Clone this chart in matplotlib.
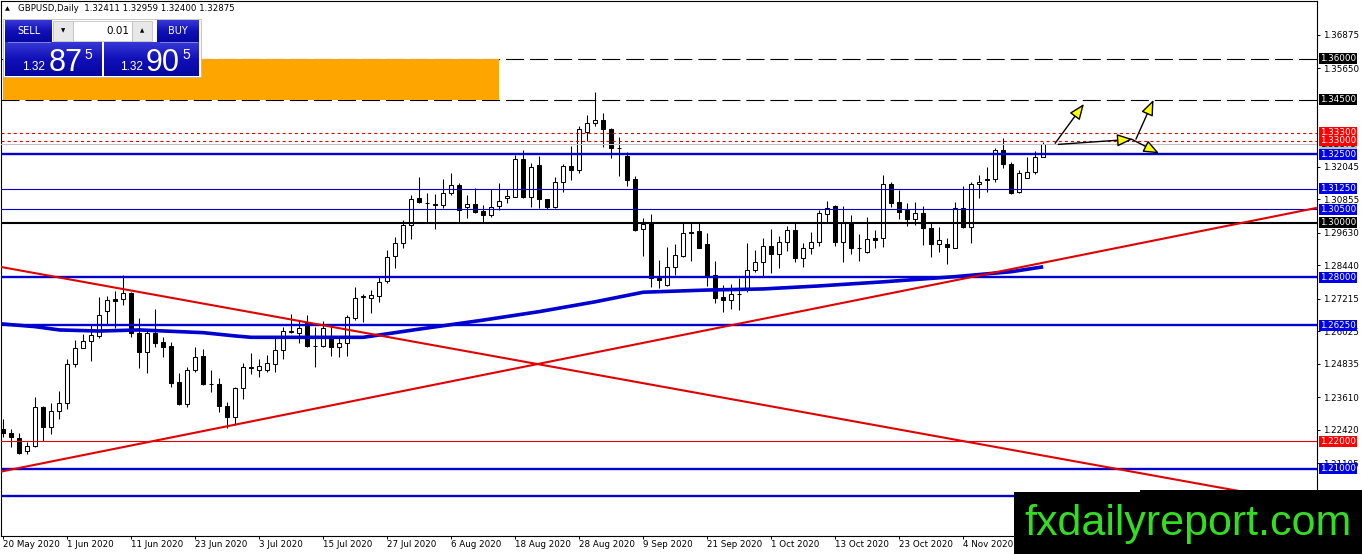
import matplotlib
matplotlib.use('Agg')
import matplotlib.pyplot as plt
from matplotlib.patches import Rectangle
from matplotlib.colors import LinearSegmentedColormap
import numpy as np

plt.rcParams['font.family'] = ['DejaVu Sans']
plt.rcParams['lines.scale_dashes'] = False

W, H = 1362, 554

# ---------------- data ----------------
date_labels = ["20 May 2020", "1 Jun 2020", "11 Jun 2020", "23 Jun 2020", "3 Jul 2020",
               "15 Jul 2020", "27 Jul 2020", "6 Aug 2020", "18 Aug 2020", "28 Aug 2020",
               "9 Sep 2020", "21 Sep 2020", "1 Oct 2020", "13 Oct 2020", "23 Oct 2020",
               "4 Nov 2020"]
date_bars = [0, 8, 16, 24, 32, 40, 48, 56, 64, 72, 80, 88, 96, 104, 112, 120]

opens = [1.2245, 1.2230, 1.2211, 1.2166, 1.2183, 1.2326, 1.2254, 1.2313, 1.2339, 1.2482,
         1.2543, 1.2568, 1.2586, 1.2679, 1.2720, 1.2720, 1.2742, 1.2596, 1.2529, 1.2598,
         1.2565, 1.2549, 1.2419, 1.2337, 1.2461, 1.2513, 1.2411, 1.2410, 1.2330, 1.2288,
         1.2394, 1.2469, 1.2461, 1.2461, 1.2483, 1.2535, 1.2601, 1.2598, 1.2632, 1.2549,
         1.2549, 1.2583, 1.2544, 1.2559, 1.2650, 1.2729, 1.2724, 1.2732, 1.2787, 1.2878,
         1.2925, 1.2991, 1.3090, 1.3072, 1.3069, 1.3065, 1.3108, 1.3138, 1.3057, 1.3067,
         1.3043, 1.3027, 1.3061, 1.3090, 1.3096, 1.3232, 1.3093, 1.3211, 1.3086, 1.3059,
         1.3148, 1.3208, 1.3195, 1.3333, 1.3364, 1.3378, 1.3345, 1.3275, 1.3245, 1.3160,
         1.2976, 1.2998, 1.2799, 1.2772, 1.2839, 1.2879, 1.2967, 1.2970, 1.2921, 1.2809,
         1.2728, 1.2716, 1.2738, 1.2754, 1.2826, 1.2858, 1.2915, 1.2885, 1.2928, 1.2972,
         1.2873, 1.2909, 1.2931, 1.3031, 1.3061, 1.2931, 1.3004, 1.2909, 1.2892, 1.2943,
         1.2943, 1.3141, 1.3075, 1.3047, 1.3013, 1.3035, 1.2980, 1.2921, 1.2922, 1.2909,
         1.3053, 1.2983, 1.3141, 1.3160, 1.3159, 1.3266, 1.3214, 1.3111, 1.3165, 1.3187,
         1.32411]
highs = [1.2281, 1.2244, 1.2230, 1.2199, 1.2361, 1.2328, 1.2339, 1.2386, 1.2500, 1.2571,
         1.2593, 1.2626, 1.2730, 1.2732, 1.2752, 1.2809, 1.2748, 1.2651, 1.2608, 1.2683,
         1.2583, 1.2565, 1.2449, 1.2471, 1.2544, 1.2537, 1.2461, 1.2431, 1.2346, 1.2398,
         1.2488, 1.2525, 1.2500, 1.2516, 1.2586, 1.2620, 1.2666, 1.2644, 1.2663, 1.2620,
         1.2642, 1.2620, 1.2577, 1.2663, 1.2764, 1.2739, 1.2754, 1.2803, 1.2900, 1.2949,
         1.3010, 1.3102, 1.3169, 1.3110, 1.3105, 1.3159, 1.3183, 1.3147, 1.3102, 1.3126,
         1.3065, 1.3122, 1.3144, 1.3122, 1.3248, 1.3266, 1.3220, 1.3245, 1.3088, 1.3169,
         1.3215, 1.3281, 1.3354, 1.3394, 1.3480, 1.3400, 1.3348, 1.3315, 1.3260, 1.3172,
         1.3018, 1.3031, 1.2864, 1.2912, 1.2922, 1.3004, 1.3001, 1.3001, 1.2961, 1.2860,
         1.2772, 1.2775, 1.2797, 1.2925, 1.2900, 1.2946, 1.2976, 1.2952, 1.2988, 1.2998,
         1.2925, 1.2967, 1.3047, 1.3080, 1.3065, 1.3061, 1.3028, 1.2958, 1.3022, 1.2974,
         1.3175, 1.3150, 1.3120, 1.3071, 1.3075, 1.3061, 1.3004, 1.2983, 1.2943, 1.3075,
         1.3136, 1.3150, 1.3175, 1.3205, 1.3275, 1.3309, 1.3221, 1.3193, 1.3242, 1.3263,
         1.32959]
lows = [1.2217, 1.2181, 1.2154, 1.2154, 1.2181, 1.2200, 1.2227, 1.2281, 1.2317, 1.2474,
        1.2541, 1.2496, 1.2577, 1.2626, 1.2614, 1.2699, 1.2581, 1.2468, 1.2449, 1.2544,
        1.2508, 1.2398, 1.2333, 1.2327, 1.2455, 1.2407, 1.2382, 1.2309, 1.2248, 1.2260,
        1.2354, 1.2447, 1.2435, 1.2455, 1.2455, 1.2503, 1.2596, 1.2561, 1.2544, 1.2474,
        1.2547, 1.2513, 1.2508, 1.2513, 1.2644, 1.2638, 1.2669, 1.2711, 1.2778, 1.2833,
        1.2907, 1.2939, 1.3071, 1.3004, 1.2976, 1.3053, 1.3102, 1.3004, 1.3016, 1.3037,
        1.3000, 1.3022, 1.3047, 1.3071, 1.3093, 1.3089, 1.3059, 1.3055, 1.3050, 1.3055,
        1.3113, 1.3156, 1.3183, 1.3299, 1.3354, 1.3278, 1.3238, 1.3172, 1.3136, 1.2970,
        1.2879, 1.2766, 1.2760, 1.2770, 1.2809, 1.2874, 1.2861, 1.2906, 1.2770, 1.2705,
        1.2672, 1.2684, 1.2681, 1.2748, 1.2819, 1.2803, 1.2815, 1.2833, 1.2897, 1.2858,
        1.2839, 1.2886, 1.2916, 1.3002, 1.2916, 1.2858, 1.2885, 1.2860, 1.2888, 1.2906,
        1.2913, 1.3059, 1.3014, 1.2990, 1.2992, 1.2919, 1.2876, 1.2894, 1.2851, 1.2906,
        1.2982, 1.2925, 1.3089, 1.3114, 1.3150, 1.3202, 1.3106, 1.3108, 1.3163, 1.3180,
        1.32400]
closes = [1.2230, 1.2215, 1.2156, 1.2183, 1.2325, 1.2254, 1.2313, 1.2342, 1.2482, 1.2543,
          1.2568, 1.2590, 1.2663, 1.2718, 1.2715, 1.2742, 1.2596, 1.2529, 1.2596, 1.2561,
          1.2547, 1.2415, 1.2337, 1.2461, 1.2510, 1.2409, 1.2409, 1.2330, 1.2288, 1.2394,
          1.2471, 1.2471, 1.2476, 1.2486, 1.2535, 1.2604, 1.2604, 1.2614, 1.2549, 1.2548,
          1.2614, 1.2544, 1.2559, 1.2654, 1.2724, 1.2731, 1.2736, 1.2784, 1.2874, 1.2925,
          1.2991, 1.3088, 1.3077, 1.3071, 1.3064, 1.3108, 1.3138, 1.3047, 1.3067, 1.3041,
          1.3028, 1.3059, 1.3078, 1.3097, 1.3232, 1.3093, 1.3205, 1.3086, 1.3059, 1.3148,
          1.3208, 1.3195, 1.3345, 1.3364, 1.3378, 1.3345, 1.3275, 1.3273, 1.3158, 1.2973,
          1.2994, 1.2799, 1.2789, 1.2839, 1.2882, 1.2961, 1.2961, 1.2909, 1.2807, 1.2726,
          1.2716, 1.2738, 1.2739, 1.2826, 1.2855, 1.2914, 1.2885, 1.2928, 1.2972, 1.2870,
          1.2909, 1.2931, 1.3035, 1.3055, 1.2931, 1.3004, 1.2906, 1.2908, 1.2941, 1.2938,
          1.3141, 1.3074, 1.3038, 1.3013, 1.3035, 1.2980, 1.2921, 1.2936, 1.2910, 1.3053,
          1.2983, 1.3141, 1.3150, 1.3157, 1.3266, 1.3214, 1.3110, 1.3184, 1.3187, 1.3239,
          1.32875]

ma_bars = [-1, 4, 7, 12, 17, 25, 29, 31, 37, 45, 52, 60, 67, 74, 80, 88, 95, 102, 110, 119, 126, 130]
ma_vals = [1.2632, 1.2620, 1.2608, 1.2604, 1.2608, 1.2598, 1.2586, 1.2581, 1.2581, 1.2581,
           1.2611, 1.2644, 1.2675, 1.2711, 1.2746, 1.2754, 1.2758, 1.2769, 1.2784, 1.2803,
           1.2821, 1.2839]

trend_up_bars = [-0.41, 164.1]
trend_up_vals = [1.2089, 1.3054]
trend_down_bars = [-0.41, 158.0]
trend_down_vals = [1.2839, 1.2000]

dashed_levels = [1.3600, 1.3450]
red_dotted_levels = [1.3330, 1.3300]
bid_price = 1.32875
blue_thick_levels = [1.3250, 1.2800, 1.2625, 1.2100, 1.2000]
blue_thin_levels = [1.3125, 1.3050]
black_thick_levels = [1.3000]
red_thin_levels = [1.2200]

zone_bars = [-0.1, 62.0]
zone_vals = [1.3450, 1.3600]

price_ticks = [1.36875, 1.35650, 1.32045, 1.30855, 1.29630,
               1.28440, 1.27215, 1.26025, 1.24835, 1.23610, 1.22420, 1.21195]

level_labels = [1.36000, 1.34500, 1.33300, 1.33000, 1.32500, 1.31250, 1.30500,
                1.30000, 1.28000, 1.26250, 1.22000, 1.21000, 1.20000]
level_label_colors = ['black', 'black', '#FF0000', '#FF0000', '#0000E6', '#0000E6', '#0000E6',
                      'black', '#0000E6', '#0000E6', '#FF0000', '#0000E6', '#0000E6']

arrow_start_bars = [131.5, 131.9, 141.6, 141.05]
arrow_start_vals = [1.3291, 1.3287, 1.3306, 1.3306]
arrow_end_bars = [135.1, 141.2, 143.8, 144.5]
arrow_end_vals = [1.3435, 1.3306, 1.3450, 1.3254]

header = "GBPUSD,Daily  1.32411 1.32959 1.32400 1.32875"

# ---------------- figure ----------------
fig = plt.figure(figsize=(W / 100, H / 100), dpi=100)
fig.patch.set_facecolor('white')
px0, px1, py0, py1 = 1.0, 1316.7, 1.0, 536.0
ax = fig.add_axes([px0 / W, 1 - py1 / H, (px1 - px0) / W, (py1 - py0) / H])
ax.set_facecolor('white')

BLUE = '#0000D0'
RED = '#E00000'

idx = np.arange(len(opens))
o = np.array(opens); c = np.array(closes); hi = np.array(highs); lo = np.array(lows)
up = c >= o
bottoms = np.minimum(o, c)
heights = np.maximum(np.abs(c - o), 0.00001)

ax.vlines(idx, lo, hi, color='black', lw=0.75, zorder=2)
ax.bar(idx, heights, bottom=bottoms, width=0.5,
       color=['white' if u else 'black' for u in up],
       edgecolor='black', linewidth=0.75, zorder=3)

# moving average
ax.plot(ma_bars, ma_vals, color=BLUE, lw=2.6, solid_capstyle='butt', zorder=4)

# horizontal levels
for lv in dashed_levels:
    ax.axhline(lv, color='black', lw=0.8, dashes=(13, 4.3), zorder=4)
for lv in red_dotted_levels:
    ax.axhline(lv, color='#E00000', lw=0.8, dashes=(2.2, 2.2), zorder=4)
ax.axhline(bid_price, color='#C0C0C0', lw=0.8, zorder=4)
for lv in blue_thick_levels:
    ax.axhline(lv, color=BLUE, lw=1.7, zorder=4)
for lv in blue_thin_levels:
    ax.axhline(lv, color=BLUE, lw=0.8, zorder=4)
for lv in black_thick_levels:
    ax.axhline(lv, color='black', lw=1.5, zorder=4)
for lv in red_thin_levels:
    ax.axhline(lv, color=RED, lw=0.8, zorder=4)

# trend lines
ax.plot(trend_up_bars, trend_up_vals, color=RED, lw=1.5, zorder=5)
ax.plot(trend_down_bars, trend_down_vals, color=RED, lw=1.5, zorder=5)

# orange zone
ax.add_patch(Rectangle((zone_bars[0], zone_vals[0]), zone_bars[1] - zone_bars[0],
                       zone_vals[1] - zone_vals[0], fc='#FFA500', ec='none', zorder=4.5))

# arrows
for sb, sv, eb, ev in zip(arrow_start_bars, arrow_start_vals, arrow_end_bars, arrow_end_vals):
    ax.annotate('', xy=(eb, ev), xytext=(sb, sv),
                arrowprops=dict(arrowstyle='-|>,head_length=0.95,head_width=0.38',
                                fc='#FFFF00', ec='black', lw=1.0,
                                shrinkA=0, shrinkB=0, mutation_scale=10),
                zorder=6)

ax.set_xlim(-0.29, 164.2)
ax.set_ylim(1.18540, 1.38116)

# axes styling
for s in ax.spines.values():
    s.set_color('black'); s.set_linewidth(0.8)
ax.yaxis.tick_right()
ax.set_yticks(price_ticks)
ax.set_yticklabels(["%.5f" % v for v in price_ticks])
ax.tick_params(axis='y', direction='out', length=2.5, width=0.7, pad=1.8,
               labelsize=6.3, colors='black')
ax.set_xticks(date_bars)
ax.set_xticklabels(date_labels, ha='left')
ax.tick_params(axis='x', direction='out', length=2.2, width=0.7, pad=1.0,
               labelsize=6.3, colors='black')

ytr = ax.get_yaxis_transform()
lbl_x = (1319.6 - px0) / (px1 - px0)
ax.text(lbl_x, bid_price, "%.5f" % bid_price, transform=ytr, ha='left', va='center',
        fontsize=6.3, color='black', clip_on=False, zorder=9,
        bbox=dict(boxstyle='square,pad=0.12', fc='#C0C0C0', ec='none'))
for v, col in zip(level_labels, level_label_colors):
    ax.text(lbl_x, v, "%.5f" % v, transform=ytr, ha='left', va='center',
            fontsize=6.3, color='white', clip_on=False, zorder=10,
            bbox=dict(boxstyle='square,pad=0.12', fc=col, ec='none'))

# ---------------- overlay (terminal widgets, watermark) ----------------
ov = fig.add_axes([0, 0, 1, 1], zorder=10)
ov.patch.set_alpha(0)
ov.axis('off')
ov.set_autoscale_on(False)
ov.set_xlim(0, W); ov.set_ylim(H, 0)

grad = LinearSegmentedColormap.from_list('btn', ['#3838D8', '#1010B8', '#0606A0'])
gimg = np.linspace(0, 1, 64).reshape(-1, 1)

def grect(x0, y0, x1, y1):
    ov.imshow(gimg, cmap=grad, extent=(x0, x1, y1, y0), aspect='auto',
              interpolation='bilinear', zorder=3)

ov.add_patch(Rectangle((3, 19), 198, 58, fc='white', ec='#B0B0B0', lw=0.5, zorder=2))
grect(5, 20, 52, 42)
grect(5, 42, 102, 76)
grect(157, 20, 199, 42)
grect(104, 42, 199, 76)
ov.plot([8, 50], [41.5, 41.5], color='#9090E8', lw=0.6, zorder=4)
ov.plot([160, 197], [41.5, 41.5], color='#9090E8', lw=0.6, zorder=4)
ov.add_patch(Rectangle((53, 21), 20, 20, fc='#E8E8E8', ec='#B8B8B8', lw=0.5, zorder=3))
ov.add_patch(Rectangle((73, 21), 59, 20, fc='white', ec='#B8B8B8', lw=0.5, zorder=3))
ov.add_patch(Rectangle((132, 21), 20, 20, fc='#E8E8E8', ec='#B8B8B8', lw=0.5, zorder=3))
ov.text(63, 31, '▼', fontsize=4, ha='center', va='center', color='black', zorder=5)
ov.text(142, 31, '▲', fontsize=4, ha='center', va='center', color='black', zorder=5)
ov.text(129, 31, '0.01', fontsize=7.5, ha='right', va='center', color='black', zorder=5)
ov.text(28.5, 31, 'SELL', fontsize=7, ha='center', va='center', color='white', zorder=5)
ov.text(178, 31, 'BUY', fontsize=7, ha='center', va='center', color='white', zorder=5)
for (xs, big, xb, xsup) in [(22, '87', 49, 84), (120, '90', 146, 182)]:
    ov.text(xs, 70, '1.32', fontsize=8.5, family='Liberation Sans', ha='left',
            va='baseline', color='white', zorder=5)
    ov.text(xb, 71, big, fontsize=22, family='Liberation Sans', ha='left',
            va='baseline', color='white', zorder=5)
    ov.text(xsup, 59, '5', fontsize=10, family='Liberation Sans', ha='left',
            va='baseline', color='white', zorder=5)

ov.text(5, 8.5, '▲', fontsize=4.5, ha='left', va='center', color='black', zorder=5)
ov.text(18, 8.5, header, fontsize=6.2, ha='left', va='center', color='black', zorder=5)

ov.add_patch(Rectangle((1014, 492), W - 1014, H - 492, fc='black', ec='none', zorder=2))
ov.add_patch(Rectangle((1140, 490), W - 1140, 4, fc='black', ec='none', zorder=2))
ov.text(1188, 535, 'fxdailyreport.com', fontsize=31, family='Liberation Sans',
        ha='center', va='baseline', color='#33DD22', zorder=3)

fig.savefig('out.png', dpi=100, facecolor='white')
